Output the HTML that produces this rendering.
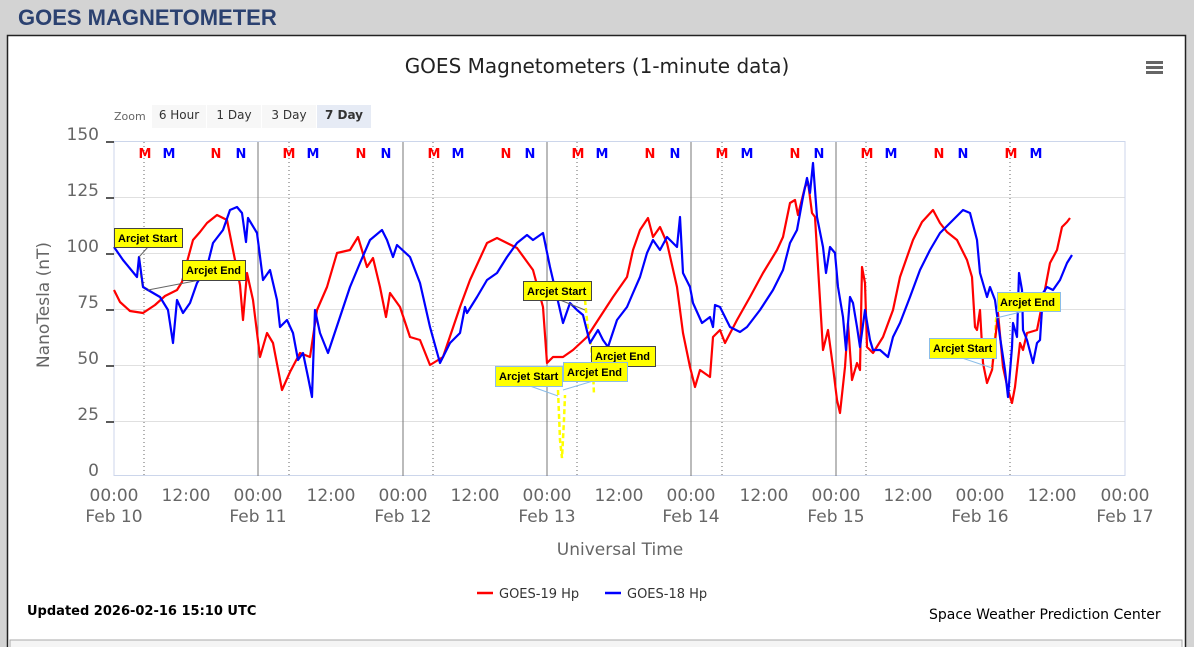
<!DOCTYPE html>
<html><head><meta charset="utf-8"><style>
body{margin:0;width:1194px;height:647px;background:#d3d3d3;overflow:hidden;font-family:"Liberation Sans",sans-serif}
svg{position:absolute;left:0;top:0}
</style></head><body>
<svg width="1194" height="647" xmlns="http://www.w3.org/2000/svg" font-family="DejaVu Sans, sans-serif">
<text x="18" y="25" font-size="22" font-weight="bold" fill="#2b4170" font-family="Liberation Sans, sans-serif">GOES MAGNETOMETER</text>
<rect x="7.5" y="35.5" width="1178" height="620" fill="#fff" stroke="#222" stroke-width="1.5"/>
<rect x="10" y="640" width="1172" height="10" fill="#f4f4f4" stroke="#aaa"/>
<text x="597" y="73" font-size="20" text-anchor="middle" fill="#222">GOES Magnetometers (1-minute data)</text>
<g fill="#666"><rect x="1146" y="61" width="17" height="3"/><rect x="1146" y="66" width="17" height="3"/><rect x="1146" y="71" width="17" height="3"/></g>
<text x="114" y="120" font-size="11" fill="#666">Zoom</text>
<rect x="152" y="105" width="54" height="23" fill="#f7f7f7"/><text x="179" y="119" font-size="12" text-anchor="middle" fill="#333">6 Hour</text>
<rect x="207" y="105" width="54" height="23" fill="#f7f7f7"/><text x="234" y="119" font-size="12" text-anchor="middle" fill="#333">1 Day</text>
<rect x="262" y="105" width="54" height="23" fill="#f7f7f7"/><text x="289" y="119" font-size="12" text-anchor="middle" fill="#333">3 Day</text>
<rect x="317" y="105" width="54" height="23" fill="#e6ebf5"/><text x="344" y="119" font-size="12" font-weight="bold" text-anchor="middle" fill="#333">7 Day</text>
<g stroke="#e0e0e0" stroke-width="1">
<line x1="114" x2="1125" y1="197.5" y2="197.5"/><line x1="114" x2="1125" y1="253.5" y2="253.5"/><line x1="114" x2="1125" y1="309.5" y2="309.5"/><line x1="114" x2="1125" y1="365.5" y2="365.5"/><line x1="114" x2="1125" y1="421.5" y2="421.5"/>
</g>
<rect x="114" y="141.5" width="1011" height="334" fill="none" stroke="#ccd6eb"/>
<g stroke="#222" stroke-width="1.5"><line x1="106" x2="114" y1="142" y2="142"/><line x1="106" x2="114" y1="198" y2="198"/><line x1="106" x2="114" y1="254" y2="254"/><line x1="106" x2="114" y1="310" y2="310"/><line x1="106" x2="114" y1="366" y2="366"/><line x1="106" x2="114" y1="422" y2="422"/></g>
<g stroke="#777" stroke-width="1"><line x1="258" x2="258" y1="142" y2="476"/><line x1="403" x2="403" y1="142" y2="476"/><line x1="547" x2="547" y1="142" y2="476"/><line x1="691" x2="691" y1="142" y2="476"/><line x1="836" x2="836" y1="142" y2="476"/></g>
<g stroke="#666" stroke-width="1" stroke-dasharray="1,3"><line x1="144" x2="144" y1="142" y2="476"/><line x1="289" x2="289" y1="142" y2="476"/><line x1="433" x2="433" y1="142" y2="476"/><line x1="577" x2="577" y1="142" y2="476"/><line x1="722" x2="722" y1="142" y2="476"/><line x1="866" x2="866" y1="142" y2="476"/><line x1="1010" x2="1010" y1="142" y2="476"/></g>
<g font-size="13" font-weight="bold" text-anchor="middle">
<text x="145" y="158" fill="#f00">M</text><text x="169" y="158" fill="#00f">M</text><text x="216" y="158" fill="#f00">N</text><text x="241" y="158" fill="#00f">N</text>
<text x="289" y="158" fill="#f00">M</text><text x="313" y="158" fill="#00f">M</text><text x="361" y="158" fill="#f00">N</text><text x="386" y="158" fill="#00f">N</text>
<text x="434" y="158" fill="#f00">M</text><text x="458" y="158" fill="#00f">M</text><text x="506" y="158" fill="#f00">N</text><text x="530" y="158" fill="#00f">N</text>
<text x="578" y="158" fill="#f00">M</text><text x="602" y="158" fill="#00f">M</text><text x="650" y="158" fill="#f00">N</text><text x="675" y="158" fill="#00f">N</text>
<text x="722" y="158" fill="#f00">M</text><text x="747" y="158" fill="#00f">M</text><text x="795" y="158" fill="#f00">N</text><text x="819" y="158" fill="#00f">N</text>
<text x="867" y="158" fill="#f00">M</text><text x="891" y="158" fill="#00f">M</text><text x="939" y="158" fill="#f00">N</text><text x="963" y="158" fill="#00f">N</text>
<text x="1011" y="158" fill="#f00">M</text><text x="1036" y="158" fill="#00f">M</text>
</g>
<g font-size="17" fill="#666" text-anchor="end">
<text x="99" y="140">150</text><text x="99" y="196">125</text><text x="99" y="252">100</text><text x="99" y="308">75</text><text x="99" y="364">50</text><text x="99" y="420">25</text><text x="99" y="476">0</text>
</g>
<text transform="translate(49,305) rotate(-90)" font-size="17" fill="#666" text-anchor="middle">NanoTesla (nT)</text>
<g font-size="17" fill="#666" text-anchor="middle">
<text x="114" y="501">00:00</text><text x="114" y="522">Feb 10</text>
<text x="186" y="501">12:00</text>
<text x="258" y="501">00:00</text><text x="258" y="522">Feb 11</text>
<text x="331" y="501">12:00</text>
<text x="403" y="501">00:00</text><text x="403" y="522">Feb 12</text>
<text x="475" y="501">12:00</text>
<text x="547" y="501">00:00</text><text x="547" y="522">Feb 13</text>
<text x="619" y="501">12:00</text>
<text x="691" y="501">00:00</text><text x="691" y="522">Feb 14</text>
<text x="764" y="501">12:00</text>
<text x="836" y="501">00:00</text><text x="836" y="522">Feb 15</text>
<text x="908" y="501">12:00</text>
<text x="980" y="501">00:00</text><text x="980" y="522">Feb 16</text>
<text x="1052" y="501">12:00</text>
<text x="1125" y="501">00:00</text><text x="1125" y="522">Feb 17</text>
</g>
<text x="620" y="555" font-size="17" fill="#666" text-anchor="middle">Universal Time</text>
<g stroke="#ff0" stroke-width="2.5" stroke-dasharray="5,3" fill="none">
<polyline points="139,257 141,275 143,287 148,290"/>
<polyline points="558,390 560,440 562,458 564,420 565,395"/>
<polyline points="585,300 588,330 591,345 593,370 594,395"/>
<polyline points="992,370 995,340 996,320 998,310"/>
</g>
<polyline fill="none" stroke="#f00" stroke-width="2.2" stroke-linejoin="round" points="114,290 120,302 130,311 143,313 155,305 165,296 177,290 182,282 187,262 193,240 200,232 207,223 217,215 227,220 233,250 240,285 243,320 247,273 253,300 260,357 267,333 273,343 282,390 290,372 300,353 310,357 317,310 327,287 337,253 350,250 358,237 367,267 373,258 380,287 386,317 390,293 400,307 410,337 420,340 430,365 443,357 460,307 470,280 487,243 497,238 507,243 517,248 533,270 543,307 547,363 553,357 563,357 573,350 587,337 600,317 613,297 627,277 633,250 640,230 648,218 653,237 660,227 667,243 677,287 683,333 690,367 695,387 700,370 710,377 713,337 720,330 725,343 737,320 750,297 763,273 777,250 783,237 790,203 795,200 798,215 805,187 808,182 812,213 815,217 820,300 823,350 828,330 833,367 837,400 840,413 845,367 848,323 852,380 857,363 860,370 862,267 865,283 867,347 873,353 883,337 893,310 900,277 907,257 913,240 922,222 933,210 940,223 947,232 957,240 967,260 972,277 975,327 977,330 980,310 983,363 987,383 992,370 998,313 1003,367 1008,390 1012,403 1015,387 1020,343 1023,350 1027,333 1037,330 1043,300 1050,263 1057,250 1062,227 1067,222 1070,218"/>
<polyline fill="none" stroke="#00f" stroke-width="2.2" stroke-linejoin="round" points="114,247 123,260 137,277 139,257 143,287 148,290 160,297 168,310 173,343 177,300 183,313 190,303 197,283 207,267 213,243 223,230 230,210 237,207 242,213 246,242 248,218 257,233 263,280 270,270 277,300 280,327 287,320 293,333 298,360 303,353 308,377 312,397 315,310 320,333 328,353 340,317 350,287 360,263 370,240 382,230 387,240 393,257 397,245 410,257 420,283 430,327 440,363 450,343 460,333 465,307 467,313 477,297 487,280 497,273 507,257 517,243 527,235 533,240 543,233 550,267 557,297 563,323 570,303 577,310 583,315 590,343 598,330 603,340 608,347 617,320 627,307 633,293 640,277 647,253 653,240 660,250 667,237 677,247 680,217 683,273 690,287 693,303 702,323 710,317 713,327 715,305 720,307 730,327 740,332 747,327 760,310 773,290 783,270 790,243 797,230 803,197 807,178 810,193 813,163 817,217 823,247 826,273 830,247 835,253 838,287 843,317 846,350 850,297 853,303 857,327 860,347 865,310 870,340 873,350 880,350 888,357 893,337 900,323 910,297 920,270 930,250 940,233 950,223 963,210 970,213 977,240 980,273 987,297 990,287 995,300 1000,337 1005,370 1008,397 1012,347 1013,323 1017,337 1019,273 1022,290 1023,330 1027,340 1033,363 1037,343 1040,340 1043,293 1047,287 1053,290 1060,280 1067,263 1072,255"/>
<g stroke="#666" stroke-width="1"><line x1="139" y1="257" x2="148" y2="247"/><line x1="148" y1="290" x2="200" y2="280"/><line x1="560" y1="300" x2="585" y2="310"/><line x1="593" y1="375" x2="620" y2="366"/></g>
<g stroke="#8bbde8" stroke-width="1"><line x1="530" y1="386" x2="558" y2="396"/><line x1="563" y1="390" x2="593" y2="381"/><line x1="962" y1="358" x2="992" y2="368"/><line x1="996" y1="318" x2="1025" y2="311"/></g>
<g font-size="11" font-weight="bold" fill="#000" font-family="Liberation Sans, sans-serif">
<rect x="114.5" y="228.5" width="68" height="19" fill="#ff0" stroke="#444"/><text x="118" y="242">Arcjet Start</text>
<rect x="182.5" y="260.5" width="63" height="20" fill="#ff0" stroke="#444"/><text x="186" y="274">Arcjet End</text>
<rect x="523.5" y="281.5" width="68" height="19" fill="#ff0" stroke="#444"/><text x="527" y="295">Arcjet Start</text>
<rect x="591.5" y="346.5" width="64" height="20" fill="#ff0" stroke="#444"/><text x="595" y="360">Arcjet End</text>
<rect x="495.5" y="366.5" width="67" height="20" fill="#ff0" stroke="#8bbde8"/><text x="499" y="380">Arcjet Start</text>
<rect x="563.5" y="362.5" width="64" height="19" fill="#ff0" stroke="#8bbde8"/><text x="567" y="376">Arcjet End</text>
<rect x="929.5" y="338.5" width="67" height="20" fill="#ff0" stroke="#8bbde8"/><text x="933" y="352">Arcjet Start</text>
<rect x="997.5" y="292.5" width="63" height="19" fill="#ff0" stroke="#8bbde8"/><text x="1000" y="306">Arcjet End</text>
</g>
<line x1="477" x2="493" y1="593" y2="593" stroke="#f00" stroke-width="2.5"/>
<text x="499" y="598" font-size="13" fill="#333">GOES-19 Hp</text>
<line x1="605" x2="621" y1="593" y2="593" stroke="#00f" stroke-width="2.5"/>
<text x="627" y="598" font-size="13" fill="#333">GOES-18 Hp</text>
<text x="27" y="615" font-size="13" font-weight="bold" fill="#000">Updated 2026-02-16 15:10 UTC</text>
<text x="929" y="619" font-size="14" fill="#000">Space Weather Prediction Center</text>
</svg>
</body></html>
